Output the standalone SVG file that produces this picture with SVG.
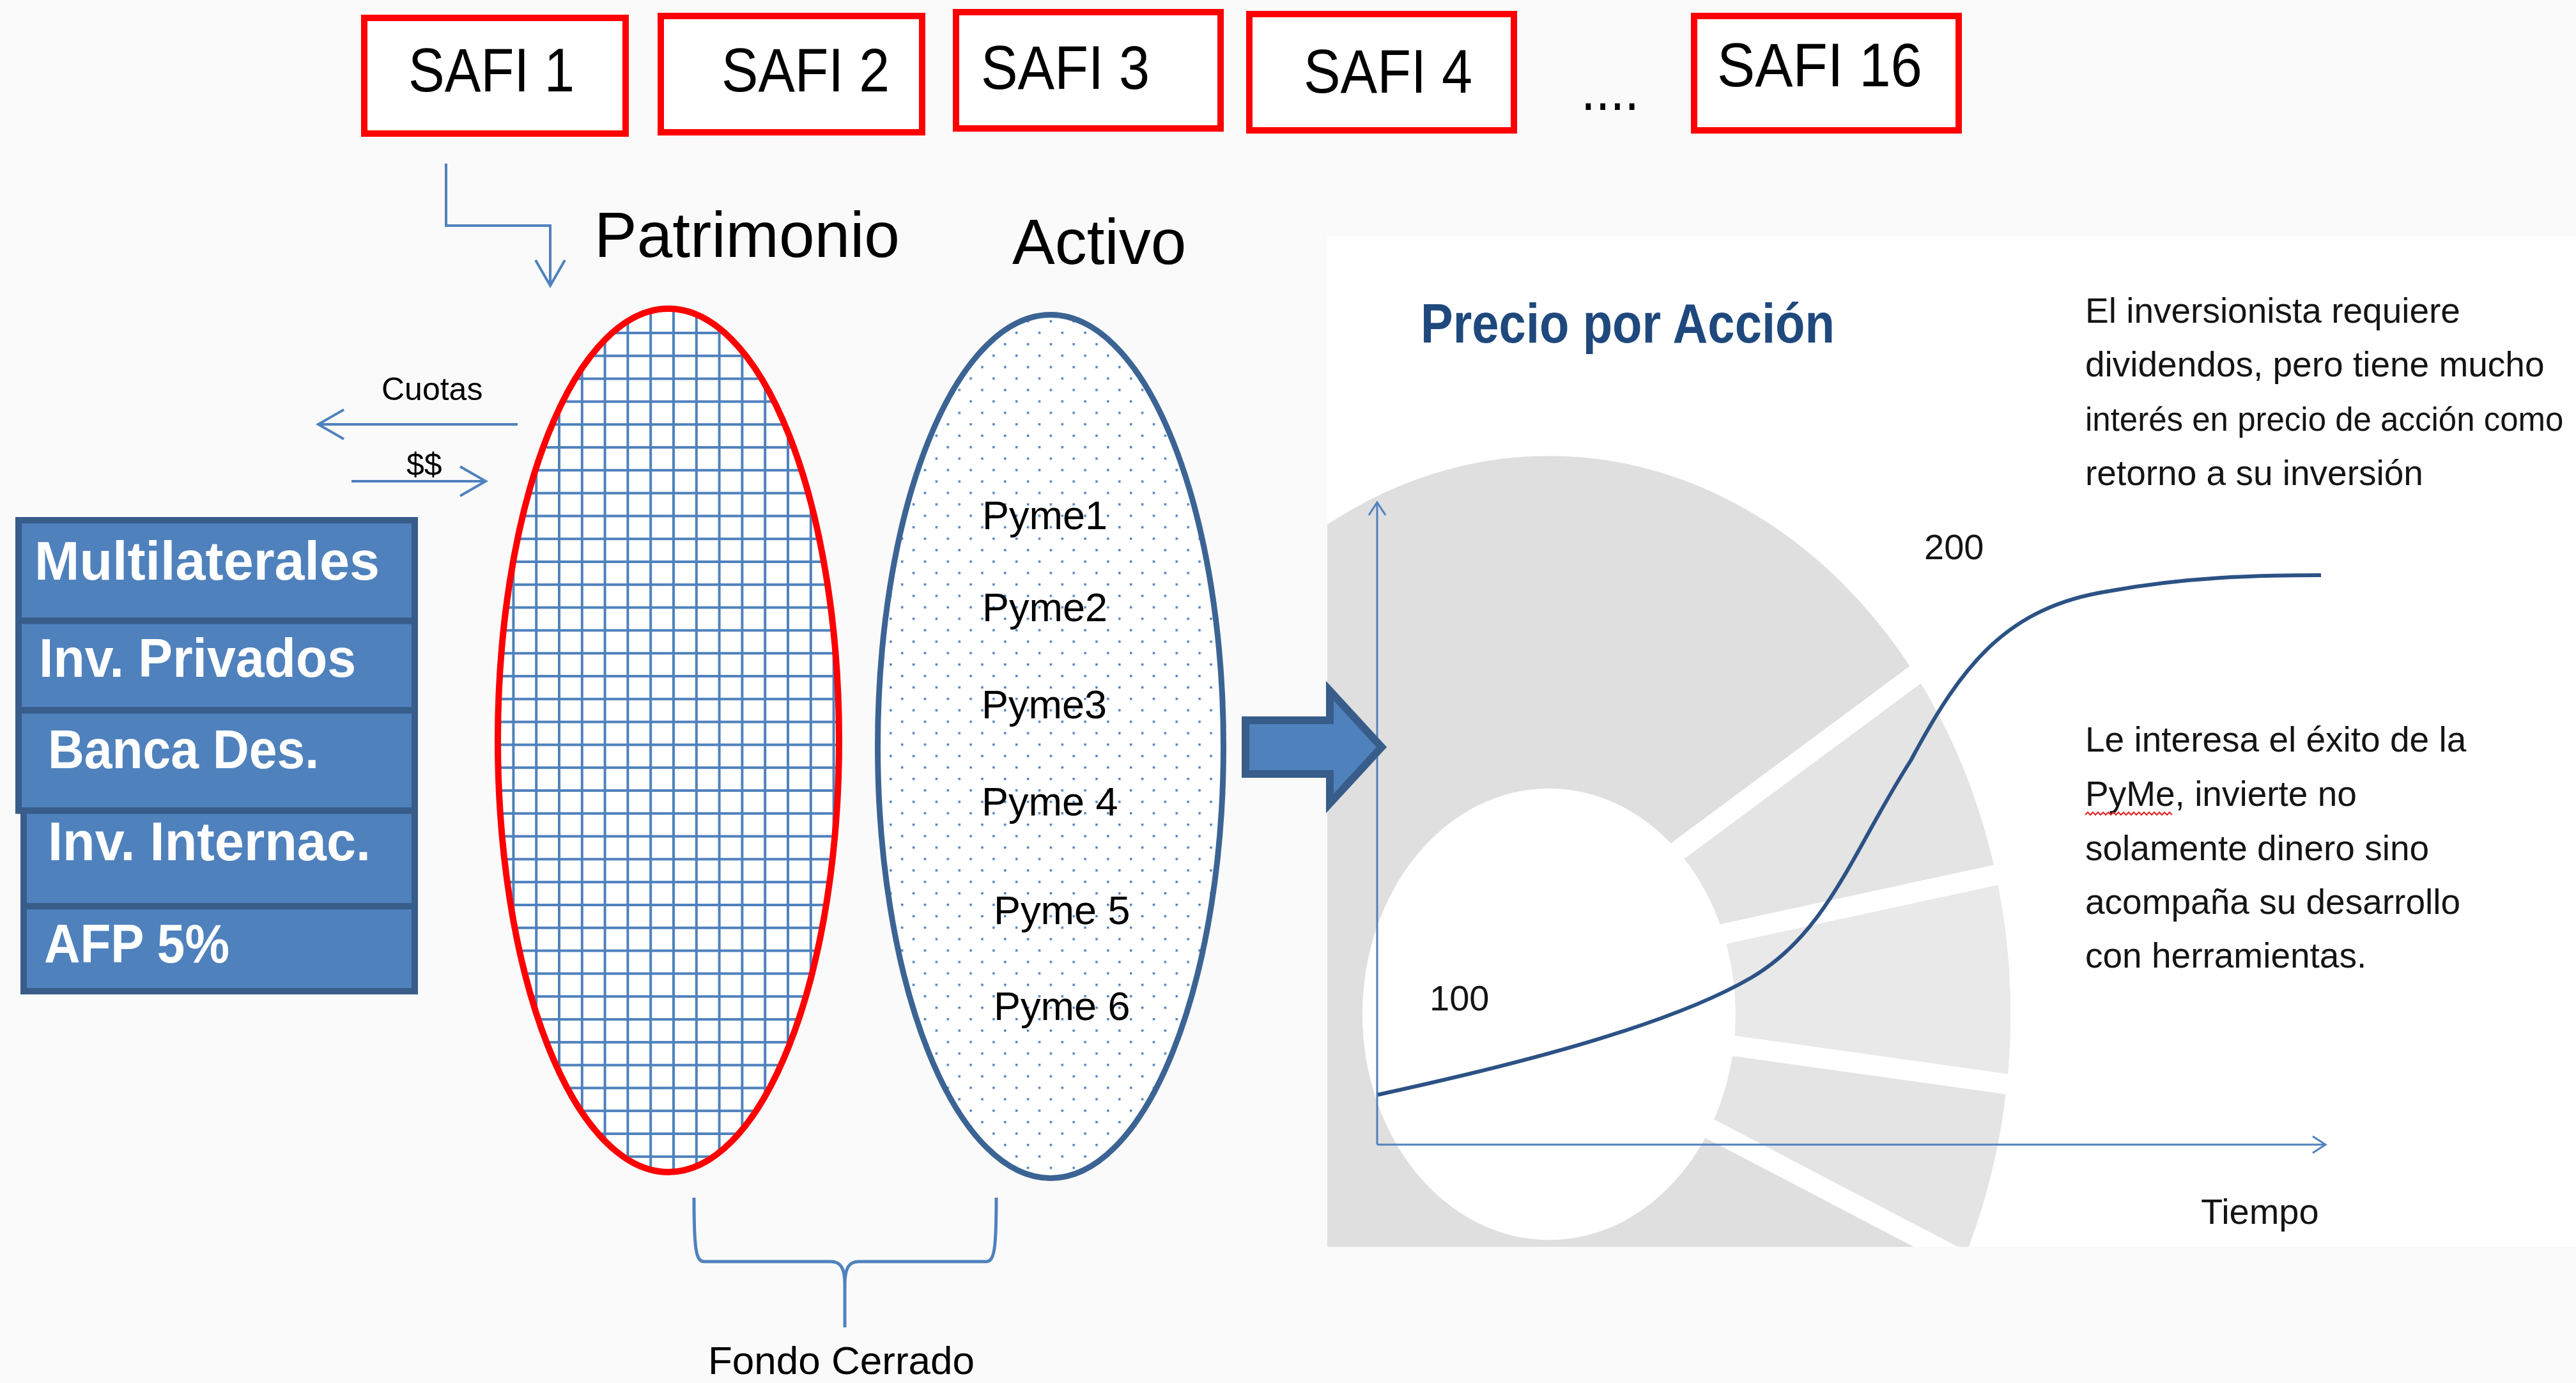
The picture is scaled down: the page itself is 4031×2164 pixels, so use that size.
<svg xmlns="http://www.w3.org/2000/svg" width="4031" height="2164" viewBox="0 0 4031 2164">
<defs>
<style>
.safi{fill:#fff;stroke:#ff0000;stroke-width:10}
.t{font-family:"Liberation Sans",Arial,sans-serif;fill:#000}
.big{font-size:96px}
.hdr{font-size:100px}
.sm{font-size:50px}
.inv{fill:#4f81bd;stroke:#385d8a;stroke-width:10}
.invt{font-family:"Liberation Sans",Arial,sans-serif;font-weight:bold;font-size:85px;fill:#fff}
.pyme{font-size:63px}
.conn{fill:none;stroke:#4f81bd;stroke-width:4}
.axis{fill:none;stroke:#4f81bd;stroke-width:3}
.rt{font-size:55px;fill:#141414}
.lbl{font-size:56px;fill:#141414}
.gap{stroke:#fff;stroke-width:32;fill:none}
</style>
<marker id="open" markerUnits="userSpaceOnUse" markerWidth="44" markerHeight="50" refX="40" refY="24" orient="auto" overflow="visible"><path d="M0,1 L40,24 L0,47" fill="none" stroke="#4f81bd" stroke-width="4"/></marker>
<marker id="small" markerUnits="userSpaceOnUse" markerWidth="24" markerHeight="30" refX="20" refY="13" orient="auto" overflow="visible"><path d="M0,0 L20,13 L0,26" fill="none" stroke="#4f81bd" stroke-width="3"/></marker>
<pattern id="grid" patternUnits="userSpaceOnUse" x="13.8" y="17.8" width="35.8" height="35.8"><rect width="35.8" height="35.8" fill="#fff"/><rect x="0" y="0" width="4" height="35.8" fill="#4f81bd"/><rect x="0" y="0" width="35.8" height="4" fill="#4f81bd"/></pattern>
<pattern id="dots" patternUnits="userSpaceOnUse" x="13.75" y="17.75" width="35.8" height="35.8"><rect width="35.8" height="35.8" fill="#fff"/><rect x="0" y="0" width="3.5" height="3.5" fill="#4f81bd"/><rect x="17.9" y="17.9" width="3.5" height="3.5" fill="#4f81bd"/></pattern>
<clipPath id="chartClip"><rect x="2077" y="370" width="1954" height="1581"/></clipPath>
<clipPath id="ringClip"><path transform="translate(2424,1587) scale(1,1.21)" clip-rule="evenodd" d="M-722,0 A722,722 0 1,0 722,0 A722,722 0 1,0 -722,0 Z M-292,0 A292,292 0 1,0 292,0 A292,292 0 1,0 -292,0 Z"/></clipPath>
</defs>
<rect x="0" y="0" width="4031" height="2164" fill="#fafafa"/>

<!-- chart panel -->
<g id="chart">
<rect x="2077" y="370" width="1954" height="1581" fill="#ffffff"/>
<g clip-path="url(#chartClip)">
<g clip-path="url(#ringClip)">
<rect x="1600" y="600" width="1800" height="1500" fill="#dfdfdf"/>
<polygon points="2479,1440 3191,912 3289,1333 2579,1487" fill="#e4e4e4"/>
<polygon points="2579,1487 3289,1333 3316,1721 2589,1619" fill="#e9e9e9"/>
<polygon points="2589,1619 3316,1721 3171,2025 2572,1712" fill="#e4e4e4"/>
</g>
<line class="gap" x1="2479" y1="1440" x2="3191" y2="912"/>
<line class="gap" x1="2579" y1="1487" x2="3289" y2="1333"/>
<line class="gap" x1="2589" y1="1619" x2="3316" y2="1721"/>
<line class="gap" x1="2572" y1="1712" x2="3171" y2="2025"/>
</g>
<text class="t" x="2223" y="536" font-weight="bold" font-size="88" style="fill:#1f497d" textLength="648" lengthAdjust="spacingAndGlyphs">Precio por Acción</text>
<line class="axis" x1="2155" y1="1791" x2="2155" y2="786" marker-end="url(#small)"/>
<line class="axis" x1="2155" y1="1791" x2="3639" y2="1791" marker-end="url(#small)"/>
<path d="M2156,1713 C2400,1660 2620,1600 2740,1530 C2860,1460 2900,1330 2990,1190 C3070,1040 3140,950 3300,925 C3420,903 3530,900 3632,900" fill="none" stroke="#2c5285" stroke-width="6"/>
<text class="t lbl" x="3011" y="875">200</text>
<text class="t lbl" x="2237" y="1581">100</text>
<text class="t lbl" x="3444" y="1915">Tiempo</text>
<text class="t rt" x="3263" y="505">El inversionista requiere</text>
<text class="t rt" x="3263" y="589">dividendos, pero tiene mucho</text>
<text class="t rt" x="3263" y="674" style="font-size:51px">interés en precio de acción como</text>
<text class="t rt" x="3263" y="759">retorno a su inversión</text>
<text class="t rt" x="3263" y="1176">Le interesa el éxito de la</text>
<text class="t rt" x="3263" y="1261">PyMe, invierte no</text>
<path d="M3263,1275 l4,-4 l4,4 l4,-4 l4,4 l4,-4 l4,4 l4,-4 l4,4 l4,-4 l4,4 l4,-4 l4,4 l4,-4 l4,4 l4,-4 l4,4 l4,-4 l4,4 l4,-4 l4,4 l4,-4 l4,4 l4,-4 l4,4 l4,-4 l4,4 l4,-4 l4,4 l4,-4 l4,4 l4,-4 l4,4 l4,-4 l4,4" fill="none" stroke="#e02020" stroke-width="2"/>
<text class="t rt" x="3263" y="1346">solamente dinero sino</text>
<text class="t rt" x="3263" y="1430">acompaña su desarrollo</text>
<text class="t rt" x="3263" y="1514">con herramientas.</text>
</g>

<!-- SAFI nodes -->
<g id="safi1"><rect class="safi" x="570" y="28" width="409" height="181"/><text class="t big" x="639" y="143" textLength="260" lengthAdjust="spacingAndGlyphs">SAFI 1</text></g>
<g id="safi2"><rect class="safi" x="1034" y="25" width="409" height="182"/><text class="t big" x="1129" y="143" textLength="263" lengthAdjust="spacingAndGlyphs">SAFI 2</text></g>
<g id="safi3"><rect class="safi" x="1496" y="19" width="414" height="182"/><text class="t big" x="1535" y="139" textLength="264" lengthAdjust="spacingAndGlyphs">SAFI 3</text></g>
<g id="safi4"><rect class="safi" x="1955" y="22" width="414" height="182"/><text class="t big" x="2040" y="145" textLength="264" lengthAdjust="spacingAndGlyphs">SAFI 4</text></g>
<g id="ellipsis"><text class="t big" x="2474" y="172" textLength="91" lengthAdjust="spacingAndGlyphs">....</text></g>
<g id="safi16"><rect class="safi" x="2651" y="25" width="414" height="179"/><text class="t big" x="2687" y="135" textLength="321" lengthAdjust="spacingAndGlyphs">SAFI 16</text></g>

<!-- headers -->
<g id="patrimonio-label"><text class="t hdr" x="930" y="402">Patrimonio</text></g>
<g id="activo-label"><text class="t hdr" x="1584" y="413">Activo</text></g>

<!-- investor stack -->
<g id="investors">
<rect class="inv" x="29" y="814" width="620" height="157.5"/>
<rect class="inv" x="29" y="971.5" width="620" height="140"/>
<rect class="inv" x="29" y="1111.5" width="620" height="157"/>
<rect class="inv" x="37" y="1268.5" width="612" height="149.5"/>
<rect class="inv" x="37" y="1418" width="612" height="133"/>
<text class="invt" x="54" y="907" textLength="540" lengthAdjust="spacingAndGlyphs">Multilaterales</text>
<text class="invt" x="61" y="1059" textLength="496" lengthAdjust="spacingAndGlyphs">Inv. Privados</text>
<text class="invt" x="75" y="1202" textLength="424" lengthAdjust="spacingAndGlyphs">Banca Des.</text>
<text class="invt" x="75" y="1346" textLength="505" lengthAdjust="spacingAndGlyphs">Inv. Internac.</text>
<text class="invt" x="69" y="1506" textLength="290" lengthAdjust="spacingAndGlyphs">AFP 5%</text>
</g>

<!-- Patrimonio ellipse -->
<g id="patrimonio">
<ellipse cx="1046" cy="1158.5" rx="267" ry="675.5" fill="url(#grid)" stroke="#ff0000" stroke-width="10"/>
</g>

<!-- Activo ellipse -->
<g id="activo">
<ellipse cx="1644" cy="1168" rx="270.5" ry="675.5" fill="url(#dots)" stroke="#3b6494" stroke-width="9"/>
<text class="t pyme" x="1537" y="828">Pyme1</text>
<text class="t pyme" x="1537" y="972">Pyme2</text>
<text class="t pyme" x="1536" y="1124">Pyme3</text>
<text class="t pyme" x="1536" y="1276">Pyme 4</text>
<text class="t pyme" x="1555" y="1446">Pyme 5</text>
<text class="t pyme" x="1555" y="1596">Pyme 6</text>
</g>

<!-- connectors -->
<g id="connectors">
<path class="conn" d="M698,256 L698,353 L861,353 L861,447" marker-end="url(#open)"/>
<line class="conn" x1="810" y1="664" x2="498" y2="664" marker-end="url(#open)"/>
<line class="conn" x1="550" y1="753" x2="760" y2="753" marker-end="url(#open)"/>
<path d="M1949,1127 L2081,1127 L2081,1081 L2162,1169 L2081,1257 L2081,1211 L1949,1211 Z" fill="#4f81bd" stroke="#385d8a" stroke-width="12"/>
<path class="conn" style="stroke-width:5" d="M1086,1874 C1086,1955 1089,1974 1102,1974 L1300,1974 C1316,1974 1322,1985 1322,2010 L1322,2077 M1322,2010 C1322,1985 1328,1974 1344,1974 L1543,1974 C1556,1974 1559,1955 1559,1874"/>
</g>
<g id="labels">
<text class="t sm" x="597" y="626">Cuotas</text>
<text class="t sm" x="636" y="744">$$</text>
<text class="t" x="1108" y="2150" font-size="62">Fondo Cerrado</text>
</g>
</svg>
